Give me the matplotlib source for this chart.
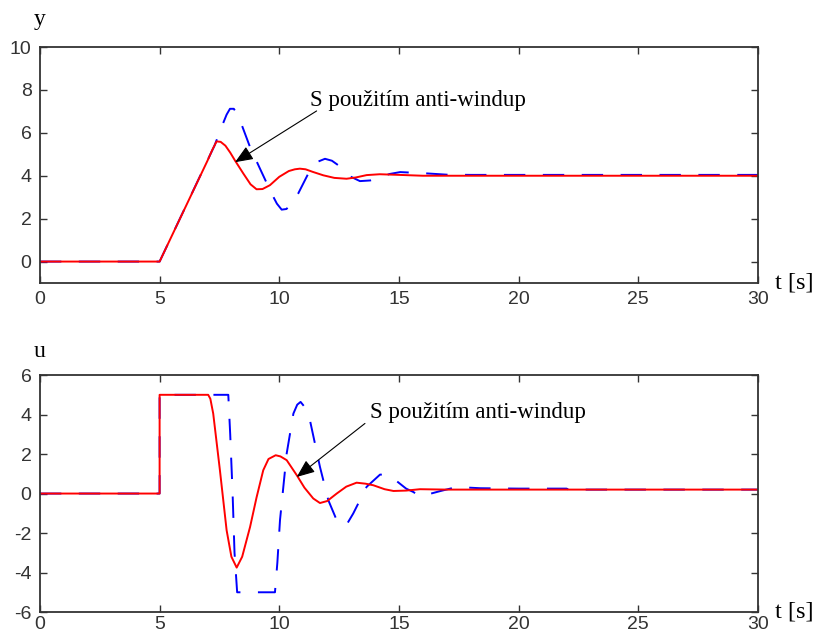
import numpy as np
import matplotlib.pyplot as plt

plt.rcParams['axes.unicode_minus'] = False

# y(t) - s anti-windup (cervena) a bez neho (modra)
t_y_aw = [0, 5, 7.0, 7.2, 7.38, 7.55, 7.75, 7.95, 8.15, 8.5, 8.8, 9.05, 9.3, 9.61, 10.0,
          10.4, 10.65, 10.86, 11.1, 11.4, 11.84, 12.3, 12.81, 13.2, 13.65, 14.2, 15, 16, 18, 30]
y_aw = [0, 0, 4.7, 5.2, 5.6, 5.58, 5.4, 5.08, 4.71, 4.1, 3.6, 3.37, 3.38, 3.56, 3.95,
        4.22, 4.3, 4.33, 4.3, 4.18, 4.02, 3.9, 3.86, 3.92, 4.03, 4.07, 4.04, 4.0, 4.0, 4.0]

t_y_bez = [0, 5, 7.3, 7.6, 7.8, 7.94, 8.1, 8.29, 8.78, 9.19, 9.68, 9.9, 10.10, 10.3, 10.55,
           10.79, 11.28, 11.6, 11.91, 12.2, 12.54, 12.96, 13.37, 13.8, 14.21, 14.6, 15.05,
           16.0, 17, 18, 30]
y_bez = [0, 0, 5.42, 6.3, 6.85, 7.12, 7.12, 6.79, 5.33, 4.34, 3.17, 2.7, 2.42, 2.45, 2.75,
         3.17, 4.25, 4.65, 4.79, 4.7, 4.43, 3.97, 3.75, 3.78, 3.91, 4.08, 4.17,
         4.12, 4.05, 4.04, 4.04]

# u(t)
t_u_aw = [0, 5, 5, 7.03, 7.12, 7.24, 7.52, 7.80, 8.0, 8.22, 8.45, 8.78, 9.05, 9.33, 9.55,
          9.85, 10.05, 10.31, 10.73, 11.05, 11.42, 11.70, 12.0, 12.40, 12.8, 13.23, 13.6,
          13.93, 14.4, 14.77, 15.3, 15.88, 17, 30]
u_aw = [0, 0, 5, 5, 4.8, 4.05, 1.18, -1.86, -3.2, -3.75, -3.2, -1.69, -0.2, 1.18, 1.75,
        1.94, 1.88, 1.69, 0.93, 0.3, -0.25, -0.48, -0.38, 0.0, 0.35, 0.55, 0.5,
        0.42, 0.22, 0.13, 0.15, 0.22, 0.2, 0.2]

t_u_bez = [0, 5, 5, 7.87, 7.95, 8.05, 8.13, 8.24, 9.82, 9.92, 10.03, 10.31, 10.59, 10.75,
           10.89, 11.05, 11.28, 11.70, 12.05, 12.40, 12.63, 12.85, 13.09, 13.65, 14.21,
           14.5, 14.77, 15.3, 15.6, 15.88, 16.71, 17.41, 18.39, 20, 22, 22.1, 30]
u_bez = [0, 0, 5, 5, 3, 0, -3, -5, -5, -3.5, -1.35, 2.03, 4.05, 4.5,
         4.64, 4.4, 3.72, 1.35, -0.34, -1.35, -1.64, -1.5, -1.01, 0.34, 0.96,
         0.95, 0.76, 0.25, 0.08, -0.15, 0.12, 0.33, 0.27, 0.25, 0.25, 0.2, 0.2]

popis = 'S použitím anti-windup'

fig = plt.figure(figsize=(8.15, 6.37), dpi=100)
ax1 = fig.add_axes([0.049, 0.5557, 0.881, 0.3705])
ax2 = fig.add_axes([0.049, 0.0392, 0.881, 0.372])

sedy = '#333333'
serif = 'Liberation Serif'
sipka = dict(arrowstyle='-|>,head_length=1.1,head_width=0.45',
             color='black', lw=0.8, shrinkA=0, shrinkB=0)

# horni graf
ax1.plot(t_y_bez, y_bez, color='blue', lw=1.4, dashes=(11, 9))
ax1.plot(t_y_aw, y_aw, color='red', lw=1.4)
ax1.set_xlim(0, 30)
ax1.set_ylim(-1, 10)
ax1.set_yticks(np.arange(0, 11, 2))
ax1.text(11.28, 7.25, popis, family=serif, fontsize=16.5, va='baseline')
ax1.annotate('', xy=(8.15, 4.63), xytext=(11.56, 7.02), arrowprops=sipka)

# dolni graf
ax2.plot(t_u_bez, u_bez, color='blue', lw=1.4, dashes=(11, 9))
ax2.plot(t_u_aw, u_aw, color='red', lw=1.4)
ax2.set_xlim(0, 30)
ax2.set_ylim(-6, 6)
ax2.set_yticks(np.arange(-6, 7, 2))
ax2.text(13.79, 3.82, popis, family=serif, fontsize=16.5, va='baseline')
ax2.annotate('', xy=(10.73, 0.84), xytext=(13.58, 3.55), arrowprops=sipka)

for ax in (ax1, ax2):
    ax.set_xticks(np.arange(0, 31, 5))
    ax.tick_params(direction='in', top=True, right=True, length=5, width=1,
                   colors=sedy, labelsize=14, pad=6)
    for lbl in ax.get_xticklabels() + ax.get_yticklabels():
        lbl.set_family('Liberation Sans')
    for s in ax.spines.values():
        s.set_color(sedy)
        s.set_linewidth(1.3)
    ax.text(1.024, 0, 't [s]', transform=ax.transAxes, family=serif,
            fontsize=17.5, va='center', ha='left')
ax2.tick_params(axis='x', pad=3)

fig.text(0.049, 0.961, 'y', family=serif, fontsize=17, va='baseline', ha='center')
fig.text(0.049, 0.4396, 'u', family=serif, fontsize=17, va='baseline', ha='center')

fig.savefig('out.png', dpi=100)
